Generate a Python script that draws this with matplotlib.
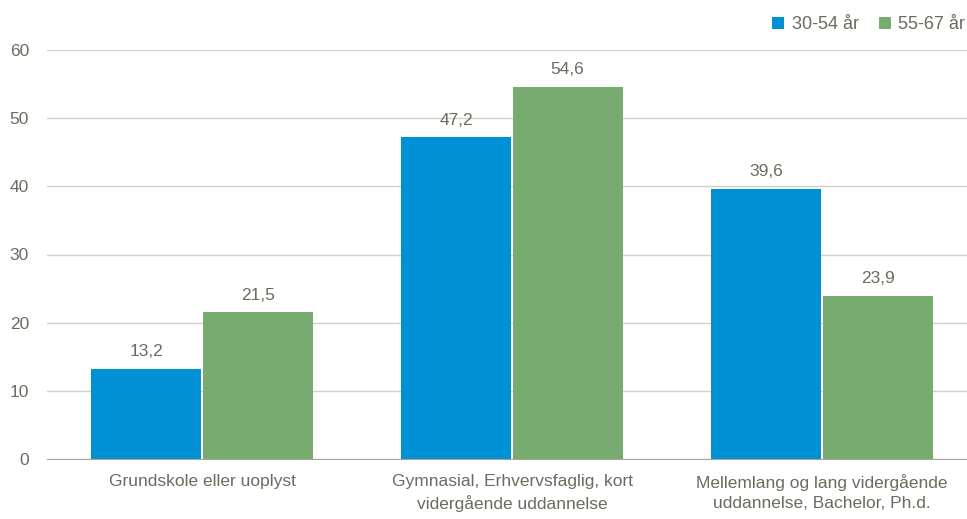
import matplotlib.pyplot as plt
import numpy as np

categories = [
    "Grundskole eller uoplyst",
    "Gymnasial, Erhvervsfaglig, kort\nvidergående uddannelse",
    "Mellemlang og lang vidergående\nuddannelse, Bachelor, Ph.d.",
]
series_names = ["30-54 år", "55-67 år"]
young = [13.2, 47.2, 39.6]
old = [21.5, 54.6, 23.9]
yticks = [0, 10, 20, 30, 40, 50, 60]

plt.rcParams["font.family"] = ["Liberation Sans", "DejaVu Sans"]

text_color = "#6b6b60"
colors = ["#0090d4", "#77ab6f"]

fig = plt.figure(figsize=(9.67, 5.19), dpi=100)
ax = fig.add_axes([47 / 967, 1 - 459 / 519, 1 - 47 / 967, (459 - 50) / 519])

x = np.arange(len(categories))
w = 0.355
b1 = ax.bar(x - w / 2 - 0.002, young, w, color=colors[0], label=series_names[0], zorder=3)
b2 = ax.bar(x + w / 2 + 0.002, old, w, color=colors[1], label=series_names[1], zorder=3)

# value labels above the bars, danish decimal comma
for bars in (b1, b2):
    for r in bars:
        ax.annotate(f"{r.get_height():.1f}".replace(".", ","),
                    (r.get_x() + r.get_width() / 2, r.get_height()),
                    xytext=(0, 7), textcoords="offset points",
                    ha="center", va="bottom", fontsize=12.5, color=text_color)

ax.set_xlim(-0.5, 2.5 - 10 / 310)
ax.set_ylim(0, 60)
ax.set_yticks(yticks)
ax.set_xticks(x)
ax.set_xticklabels(categories, linespacing=1.4)
ax.tick_params(axis="both", length=0, labelsize=12.5, labelcolor=text_color)
ax.tick_params(axis="x", pad=11)
ax.tick_params(axis="y", pad=13)
ax.grid(axis="y", color="#d0d0c6", linewidth=1, zorder=0)
for s in ["top", "right", "left"]:
    ax.spines[s].set_visible(False)
ax.spines["bottom"].set_color("#a6a596")
ax.spines["bottom"].set_zorder(4)

leg = ax.legend(loc="upper right", bbox_to_anchor=(1.006, 1.1), ncol=2, frameon=False,
                fontsize=13, handlelength=0.7, handleheight=0.7, handletextpad=0.4,
                columnspacing=1.1, borderaxespad=0)
for t in leg.get_texts():
    t.set_color(text_color)

fig.savefig("out.png", dpi=100)
